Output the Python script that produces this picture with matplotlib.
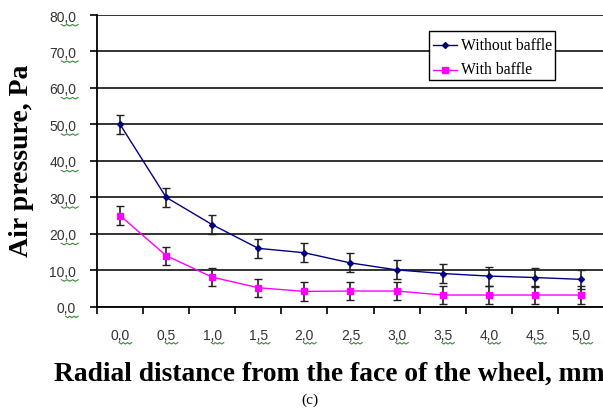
import numpy as np
import matplotlib.pyplot as plt
from matplotlib.lines import Line2D
from matplotlib.patches import Rectangle

distance = ['0,0', '0,5', '1,0', '1,5', '2,0', '2,5', '3,0', '3,5', '4,0', '4,5', '5,0']
without_baffle = [50.0, 30.0, 22.5, 16.0, 14.8, 12.0, 10.1, 9.1, 8.4, 8.0, 7.5]
with_baffle = [25.0, 14.0, 8.1, 5.2, 4.2, 4.3, 4.3, 3.2, 3.2, 3.2, 3.2]
err_without = [2.6, 2.6, 2.6, 2.6, 2.6, 2.6, 2.6, 2.6, 2.6, 2.6, 2.6]
err_with = [2.5, 2.5, 2.5, 2.5, 2.5, 2.5, 2.5, 2.5, 2.5, 2.5, 2.5]
yticks = [0, 10, 20, 30, 40, 50, 60, 70, 80]
series_names = ['Without baffle', 'With baffle']

W, H = 603, 410
fig = plt.figure(figsize=(W / 100, H / 100), dpi=100)
ax = fig.add_axes([97 / W, 1 - 307.7 / H, 507 / W, (307.7 - 16) / H])

x = np.arange(len(distance))
ax.errorbar(x, without_baffle, yerr=err_without, color='#000080', marker='D', markersize=3,
            linewidth=1, ecolor='#202020', elinewidth=1.2, capsize=3, zorder=3)
ax.errorbar(x, with_baffle, yerr=err_with, color='#ff00ff', marker='s', markersize=4,
            linewidth=1, ecolor='#202020', elinewidth=1.2, capsize=3, zorder=3)

ax.set_xlim(-0.5, len(distance) - 0.5)
ax.set_ylim(0, 80)
ax.set_yticks(yticks)
ax.set_yticklabels([f'{v},0' for v in yticks], fontsize=10, color='#333333', family='Liberation Sans')
ax.set_xticks(x)
ax.set_xticklabels(distance, fontsize=10, color='#333333', family='Liberation Sans')
ax.set_xticks(np.arange(-0.5, len(distance)), minor=True)
ax.tick_params(axis='x', which='major', length=0, pad=15)
ax.tick_params(axis='x', which='minor', length=5, width=1.2, direction='out')
ax.tick_params(axis='y', length=5, width=1.2, direction='out', pad=10)
ax.yaxis.grid(True, color='#222222', linewidth=1.3)
ax.set_axisbelow(True)
for side in ['top', 'right']:
    ax.spines[side].set_visible(False)
ax.spines['left'].set_linewidth(1.3)
ax.spines['bottom'].set_linewidth(1.3)

ax.set_ylabel('Air pressure, Pa', fontsize=20, fontweight='bold', family='Liberation Serif')
ax.yaxis.set_label_coords((34 - 97) / 507, (307.7 - 161) / 291.7)
ax.set_xlabel('Radial distance from the face of the wheel, mm', fontsize=19.8, fontweight='bold',
              family='Liberation Serif')
ax.xaxis.set_label_coords((329 - 97) / 507, (307.7 - 362) / 291.7)

# legend box drawn by hand: the text runs past the frame as in the original
def fx(px):
    return px / W

def fy(py):
    return 1 - py / H

fig.add_artist(Rectangle((fx(429), fy(81)), fx(126), 49 / H, transform=fig.transFigure,
                         facecolor='white', edgecolor='black', linewidth=1, zorder=5))
for row_y, color, marker, ms, name in [(46, '#000080', 'D', 3, series_names[0]),
                                        (70.5, '#ff00ff', 's', 4, series_names[1])]:
    fig.add_artist(Line2D([fx(433), fx(457)], [fy(row_y), fy(row_y)], color=color, linewidth=1,
                          transform=fig.transFigure, zorder=6))
    fig.add_artist(Line2D([fx(445)], [fy(row_y)], color=color, marker=marker, markersize=ms,
                          transform=fig.transFigure, zorder=6))
    fig.text(fx(461), fy(row_y), name, ha='left', va='center', fontsize=11.3,
             family='Liberation Serif', zorder=6)

fig.text(fx(310), fy(400), '(c)', ha='center', va='center', fontsize=11, family='Liberation Serif')

# green spell-check squiggles under the tick labels
fig.canvas.draw()
renderer = fig.canvas.get_renderer()
for lab in ax.get_xticklabels() + ax.get_yticklabels():
    bb = lab.get_window_extent(renderer)
    x0 = bb.x0 + bb.width * 0.45
    x1 = bb.x1 + 2
    xs = np.linspace(x0, x1, 7)
    ys = bb.y0 - 1 + np.array([0, -1.5] * 4)[:7]
    fig.add_artist(Line2D(xs / fig.bbox.width, ys / fig.bbox.height, color='#3a8a3a',
                          linewidth=0.8, transform=fig.transFigure))

plt.savefig('out.png', dpi=100)
